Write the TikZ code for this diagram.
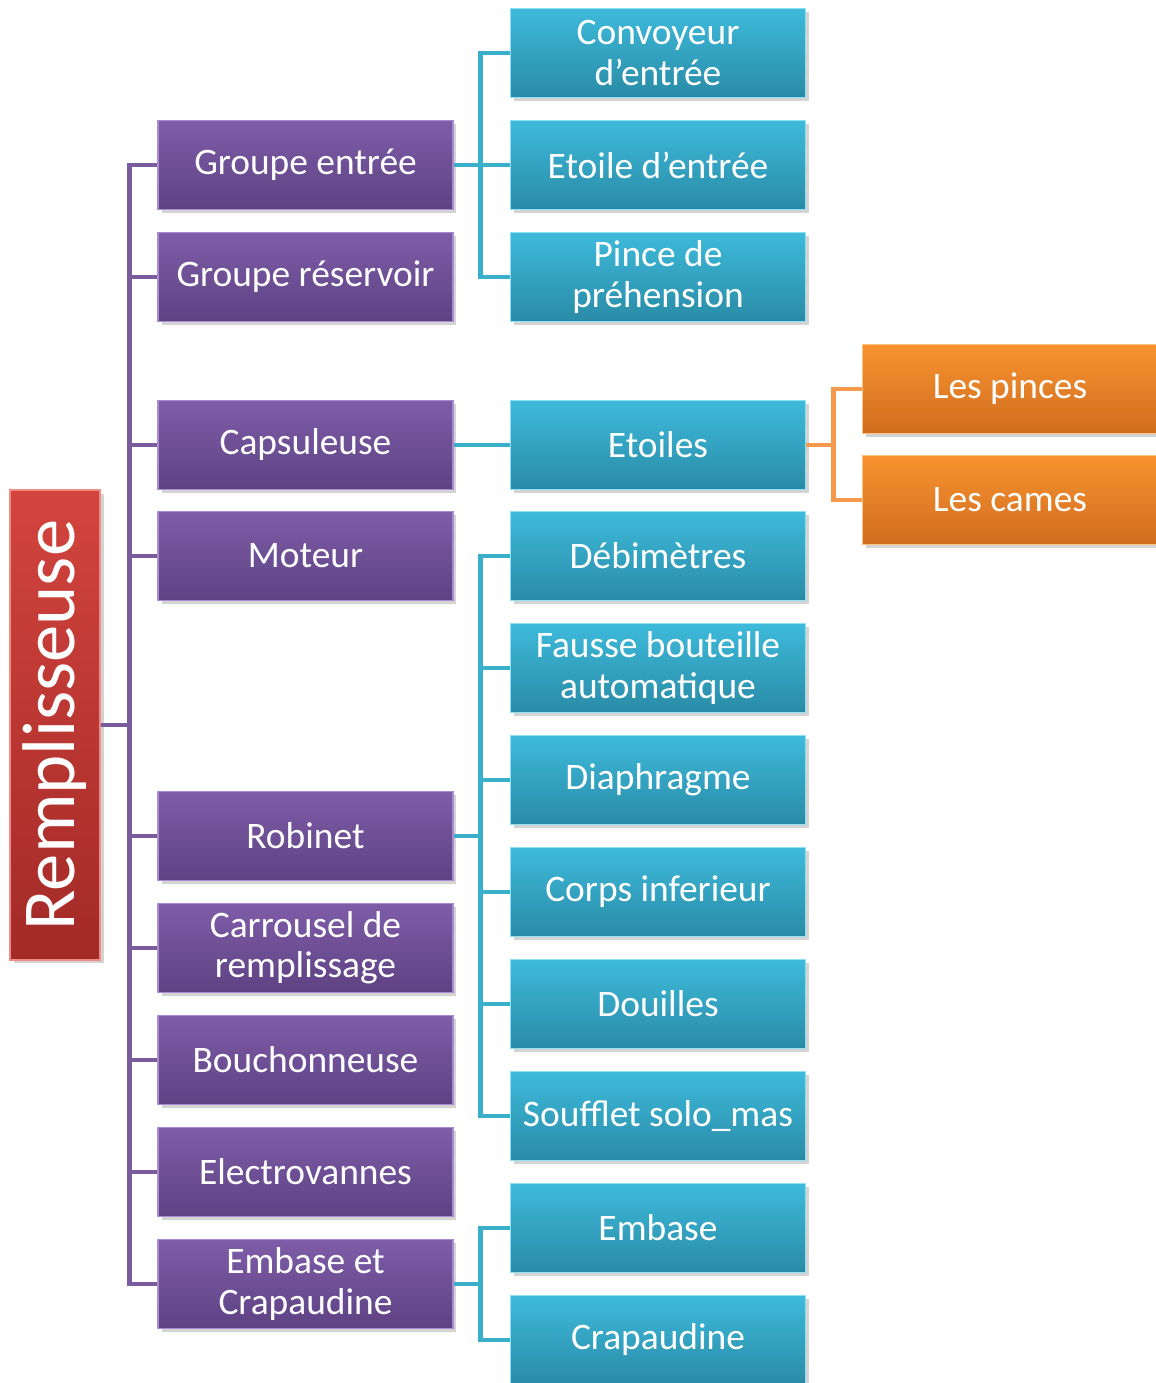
\documentclass[tikz,border=0pt]{standalone}
\usepackage{fontspec}
\setmainfont{Carlito}
\usepackage{tikz}
\usetikzlibrary{shadows}

\definecolor{purpleTop}{HTML}{7E5DA8}
\definecolor{purpleBot}{HTML}{5E4283}
\definecolor{purpleEdge}{HTML}{A98BD0}
\definecolor{purpleLine}{HTML}{7A5C9E}
\definecolor{cyanTop}{HTML}{3EBADB}
\definecolor{cyanBot}{HTML}{298BA6}
\definecolor{cyanEdge}{HTML}{8FE0F2}
\definecolor{cyanLine}{HTML}{3AAFC9}
\definecolor{orangeTop}{HTML}{F8932F}
\definecolor{orangeBot}{HTML}{D06D1F}
\definecolor{orangeEdge}{HTML}{FFC27E}
\definecolor{orangeLine}{HTML}{F59A4A}
\definecolor{redTop}{HTML}{D3443E}
\definecolor{redBot}{HTML}{A32A27}
\definecolor{redEdge}{HTML}{F08C86}

\begin{document}
\begin{tikzpicture}[x=0.02cm,y=-0.02cm]
		\tikzset{
			Box/.style = {rectangle, minimum width=5.9cm, minimum height=1.78cm, inner sep=0pt,
				align=center, text=white, line width=1pt,
				font=\fontsize{21.3}{23}\selectfont,
				drop shadow={shadow xshift=2pt, shadow yshift=-2pt, opacity=0.35}},
			RootBox/.style = {Box, minimum width=9.4cm, minimum height=1.8cm, rotate=90,
				draw=redEdge, top color=redTop, bottom color=redBot,
				font=\fontsize{42.5}{44}\selectfont},
			PurpleBox/.style = {Box, draw=purpleEdge, top color=purpleTop, bottom color=purpleBot},
			CyanBox/.style = {Box, draw=cyanEdge, top color=cyanTop, bottom color=cyanBot},
			OrangeBox/.style = {Box, draw=orangeEdge, top color=orangeTop, bottom color=orangeBot},
			PurpleEdgeStyle/.style = {draw=purpleLine, line width=2.8pt},
			CyanEdgeStyle/.style = {draw=cyanLine, line width=2.8pt},
			OrangeEdgeStyle/.style = {draw=orangeLine, line width=2.8pt}
		}
		\useasboundingbox (0,0) rectangle (1156,1383);
		
		\node[RootBox] (R0) at (55,725) {Remplisseuse};
		
		\node[PurpleBox] (P1) at (305.5,165) {Groupe entrée};
		\node[PurpleBox] (P2) at (305.5,277) {Groupe réservoir};
		\node[PurpleBox] (P3) at (305.5,445) {Capsuleuse};
		\node[PurpleBox] (P4) at (305.5,556) {Moteur};
		\node[PurpleBox] (P5) at (305.5,836) {Robinet};
		\node[PurpleBox] (P6) at (305.5,948) {Carrousel de\\remplissage};
		\node[PurpleBox] (P7) at (305.5,1060) {Bouchonneuse};
		\node[PurpleBox] (P8) at (305.5,1172) {Electrovannes};
		\node[PurpleBox] (P9) at (305.5,1284) {Embase et\\Crapaudine};
		
		\node[CyanBox] (C1) at (658,53) {Convoyeur\\d’entrée};
		\node[CyanBox] (C2) at (658,165) {Etoile d’entrée};
		\node[CyanBox] (C3) at (658,277) {Pince de\\préhension};
		\node[CyanBox] (C4) at (658,445) {Etoiles};
		\node[CyanBox] (C5) at (658,556) {Débimètres};
		\node[CyanBox] (C6) at (658,668) {Fausse bouteille\\automatique};
		\node[CyanBox] (C7) at (658,780) {Diaphragme};
		\node[CyanBox] (C8) at (658,892) {Corps inferieur};
		\node[CyanBox] (C9) at (658,1004) {Douilles};
		\node[CyanBox] (C10) at (658,1116) {Soufflet solo\_mas};
		\node[CyanBox] (C11) at (658,1228) {Embase};
		\node[CyanBox] (C12) at (658,1340) {Crapaudine};
		
		\node[OrangeBox] (O1) at (1010,389) {Les pinces};
		\node[OrangeBox] (O2) at (1010,500) {Les cames};
		
		%%%%%%%%%%%%%%%%%%%%%%%%%%%%%%
		
		\begin{scope}[on background layer/.try]
		\draw[PurpleEdgeStyle] (R0.south) -- ++(30,0);
		\draw[PurpleEdgeStyle] (P1.west) -- ++(-28,0) |- (P9.west);
		\draw[PurpleEdgeStyle] (P2.west) -- ++(-28,0);
		\draw[PurpleEdgeStyle] (P3.west) -- ++(-28,0);
		\draw[PurpleEdgeStyle] (P4.west) -- ++(-28,0);
		\draw[PurpleEdgeStyle] (P5.west) -- ++(-28,0);
		\draw[PurpleEdgeStyle] (P6.west) -- ++(-28,0);
		\draw[PurpleEdgeStyle] (P7.west) -- ++(-28,0);
		\draw[PurpleEdgeStyle] (P8.west) -- ++(-28,0);
		
		\draw[CyanEdgeStyle] (C1.west) -- ++(-29,0) |- (C3.west);
		\draw[CyanEdgeStyle] (P1.east) -- (C2.west);
		
		\draw[CyanEdgeStyle] (P3.east) -- (C4.west);
		
		\draw[CyanEdgeStyle] (C5.west) -- ++(-29,0) |- (C10.west);
		\draw[CyanEdgeStyle] (C6.west) -- ++(-29,0);
		\draw[CyanEdgeStyle] (C7.west) -- ++(-29,0);
		\draw[CyanEdgeStyle] (C8.west) -- ++(-29,0);
		\draw[CyanEdgeStyle] (C9.west) -- ++(-29,0);
		\draw[CyanEdgeStyle] (P5.east) -- ++(29,0);
		
		\draw[CyanEdgeStyle] (C11.west) -- ++(-29,0) |- (C12.west);
		\draw[CyanEdgeStyle] (P9.east) -- ++(29,0);
		
		\draw[OrangeEdgeStyle] (O1.west) -- ++(-28,0) |- (O2.west);
		\draw[OrangeEdgeStyle] (C4.east) -- ++(30,0);
		\end{scope}
		
	\end{tikzpicture}
\end{document}
